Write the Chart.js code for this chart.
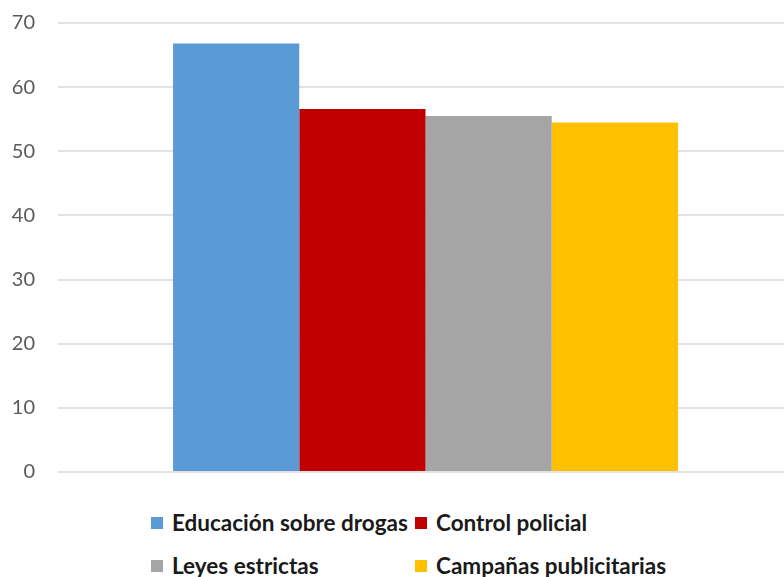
<!DOCTYPE html>
<html lang="es">
<head>
<meta charset="utf-8">
<title>Medidas contra las drogas</title>
<script src="https://cdn.jsdelivr.net/npm/chart.js@4.4.1/dist/chart.umd.min.js"></script>
<style>
  html, body { margin: 0; padding: 0; background: #fff; overflow: hidden; }
  #wrap { position: relative; width: 794px; height: 490px; }
  #legend {
    position: absolute; left: 151px; top: 501px;
    display: grid; grid-template-columns: 264px auto; grid-auto-rows: 43px;
    font-family: Lato, "Open Sans", sans-serif; font-weight: 700; font-size: 22.5px; color: #1a1a1a;
  }
  #legend .item { display: flex; align-items: center; white-space: nowrap; }
  #legend .box { width: 12px; height: 12px; margin-right: 9px; }
</style>
</head>
<body>
<div id="wrap"><canvas id="chart"></canvas></div>
<div id="legend"></div>
<script>
var categories = [""];
var seriesNames = ["Educación sobre drogas", "Control policial", "Leyes estrictas", "Campañas publicitarias"];
var seriesValues = [66.8, 56.6, 55.5, 54.5];
var seriesColors = ["#5b9bd5", "#c00000", "#a5a5a5", "#ffc000"];
var yTicks = [0, 10, 20, 30, 40, 50, 60, 70];

var datasets = seriesNames.map(function (name, i) {
  return {
    label: name,
    data: [seriesValues[i]],
    backgroundColor: seriesColors[i],
    borderWidth: 0,
    categoryPercentage: 0.687,
    barPercentage: 1,
  };
});

var chart = new Chart(document.getElementById("chart").getContext("2d"), {
  type: "bar",
  data: { labels: categories, datasets: datasets },
  options: {
    responsive: true,
    maintainAspectRatio: false,
    animation: false,
    layout: { padding: { top: 23, right: 1, bottom: 18, left: 0 } },
    plugins: { legend: { display: false }, tooltip: { enabled: false } },
    scales: {
      x: { display: false },
      y: {
        min: 0,
        max: 70,
        afterFit: function (axis) { axis.width = 58; },
        afterBuildTicks: function (axis) {
          axis.ticks = yTicks.map(function (v) { return { value: v }; });
        },
        border: { display: false },
        // invisible tick marks give the gap between labels and grid
        grid: { color: "#e2e2e2", lineWidth: 2, drawTicks: true, tickLength: 23, tickColor: "rgba(0,0,0,0)" },
        ticks: {
          color: "#595959",
          padding: 0,
          font: { family: "Lato, 'Open Sans', sans-serif", size: 20 },
        },
      },
    },
  },
});

// legend laid out in two fixed columns below the plot
var legendEl = document.getElementById("legend");
chart.data.datasets.forEach(function (ds) {
  var item = document.createElement("div");
  item.className = "item";
  var box = document.createElement("span");
  box.className = "box";
  box.style.background = ds.backgroundColor;
  var text = document.createElement("span");
  text.textContent = ds.label;
  item.appendChild(box);
  item.appendChild(text);
  legendEl.appendChild(item);
});
</script>
</body>
</html>
